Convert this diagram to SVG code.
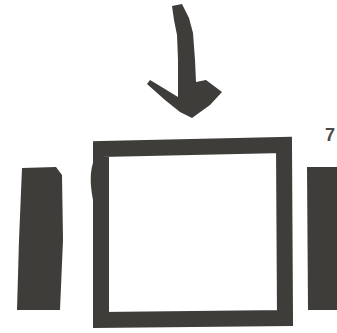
<svg xmlns="http://www.w3.org/2000/svg" width="337" height="333" viewBox="0 0 337 333">
<style>
.ink{fill:#3e3d39;}
.box{fill:none;stroke:#3e3d39;stroke-width:16;stroke-linejoin:miter;stroke-linecap:square;}
.lbl{font-family:"Liberation Sans",Arial,sans-serif;font-size:18px;font-weight:bold;fill:#4a4a46;}
</style>
<rect width="337" height="333" fill="#ffffff"/>
<g id="connectors">
<polygon class="ink" points="172,6 182,4 189,18 193,33 195,60 196,82 206,80 222,92 210,105 192,118 180,112 165,100 147,84 150,80 160,86 178,97 178,60 177,35 174,20"/>
</g>
<g id="node-left-bar">
<polygon class="ink" points="22,168 56,167 62,175 63,240 60,310 17,310 19,240"/>
</g>
<g id="node-square">
<path class="box" d="M101,149 L284,145 L285,318 L101,320 Z"/>
<path class="ink" d="M94,160 Q88,175 93,200 L96,200 L96,160 Z"/>
</g>
<g id="node-right-bar">
<polygon class="ink" points="307,167 337,167 337,310 308,310"/>
</g>
<g id="label">
<text class="lbl" x="325" y="141">7</text>
</g>
</svg>
